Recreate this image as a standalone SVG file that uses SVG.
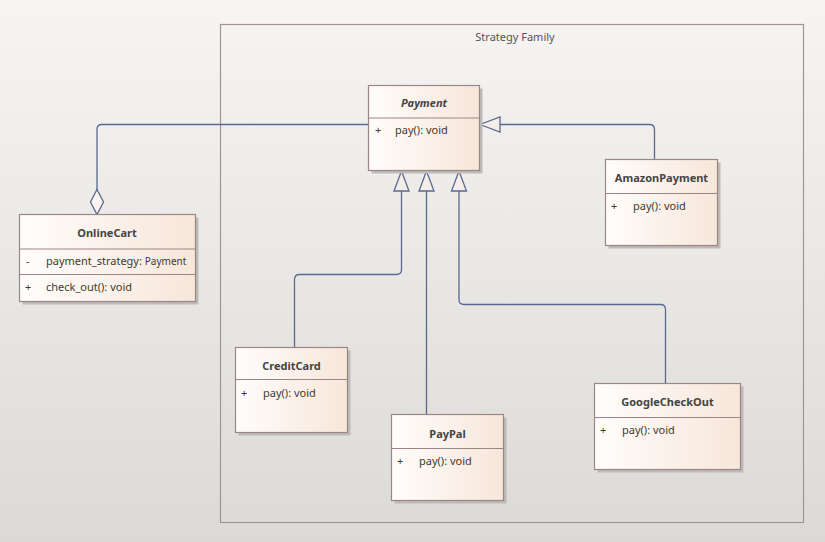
<svg xmlns="http://www.w3.org/2000/svg" width="825" height="542" viewBox="0 0 825 542">
<defs>
<linearGradient id="bg" x1="0" y1="0" x2="0" y2="1">
<stop offset="0" stop-color="#f6f5f3"/>
<stop offset="1" stop-color="#dcdad7"/>
</linearGradient>
<linearGradient id="nodefill" x1="0" y1="0" x2="1" y2="0">
<stop offset="0" stop-color="#fffdfb"/>
<stop offset="1" stop-color="#f7e6da"/>
</linearGradient>
<marker id="tri" viewBox="-1 -1 22 18" refX="20" refY="8" markerWidth="22" markerHeight="18" markerUnits="userSpaceOnUse" orient="auto">
<path d="M20,8 L0,0.5 L0,15.5 Z" fill="#f4ede8" stroke="#5b6890" stroke-width="1.3"/>
</marker>
</defs>
<style>
.shadow{fill:#bdbbb8;}
.box{fill:url(#nodefill);stroke:#9b8686;stroke-width:1.2;}
.div{stroke:#9b8686;stroke-width:1.2;}
.title{font-family:"Noto Sans","Liberation Sans",sans-serif;font-size:11px;font-weight:bold;fill:#444;text-anchor:middle;}
.txt{font-family:"Noto Sans","Liberation Sans",sans-serif;font-size:11px;fill:#3f3a30;}
.small{font-size:10px;}
.conn{fill:none;stroke:#5b6890;stroke-width:1.3;}
.frame{fill:none;stroke:#a39494;stroke-width:1.2;}
.flabel{font-family:"Noto Sans","Liberation Sans",sans-serif;font-size:11px;fill:#555;text-anchor:middle;}
</style>
<rect width="825" height="542" fill="url(#bg)"/>
<g id="strategy-family">
<rect class="frame" x="220.5" y="24.5" width="583" height="498"/>
<text class="flabel" x="515" y="41">Strategy Family</text>
</g>
<g id="connectors">
<path class="conn" d="M368,124.5 H102 Q97,124.5 97,129.5 V190"/>
<path d="M97,189.5 L103.5,202 L97,214.5 L90.5,202 Z" fill="#fbf4ef" stroke="#5b6890" stroke-width="1.3"/>
<path class="conn" d="M654.5,159 V129.5 Q654.5,124.5 649.5,124.5 H480" marker-end="url(#tri)"/>
<path class="conn" d="M294.5,347 V279.5 Q294.5,274.5 299.5,274.5 H396.5 Q401.5,274.5 401.5,269.5 V171" marker-end="url(#tri)"/>
<path class="conn" d="M426.5,414 V171" marker-end="url(#tri)"/>
<path class="conn" d="M665.5,383 V309.5 Q665.5,304.5 660.5,304.5 H464 Q459,304.5 459,299.5 V171" marker-end="url(#tri)"/>
</g>
<g id="Payment">
<rect class="shadow" x="371.5" y="88.5" width="111" height="85"/>
<rect class="box" x="368.5" y="85.5" width="111" height="85"/>
<line class="div" x1="368.5" y1="118" x2="479.5" y2="118"/>
<text class="title" x="424" y="107" font-style="italic">Payment</text>
<text class="txt" x="375" y="134">+</text>
<text class="txt" x="395" y="134">pay(): void</text>
</g>
<g id="OnlineCart">
<rect class="shadow" x="22.5" y="217.5" width="176" height="87"/>
<rect class="box" x="19.5" y="214.5" width="176" height="87"/>
<line class="div" x1="19.5" y1="249" x2="195.5" y2="249"/>
<line class="div" x1="19.5" y1="274.5" x2="195.5" y2="274.5"/>
<text class="title" x="107" y="237">OnlineCart</text>
<text class="txt" x="26" y="265">-</text>
<text class="txt" x="46" y="265">payment_strategy: <tspan class="small">Payment</tspan></text>
<text class="txt" x="25" y="291">+</text>
<text class="txt" x="46" y="291">check_out(): void</text>
</g>
<g id="AmazonPayment">
<rect class="shadow" x="608.5" y="162.5" width="112" height="86"/>
<rect class="box" x="605.5" y="159.5" width="112" height="86"/>
<line class="div" x1="605.5" y1="193.5" x2="717.5" y2="193.5"/>
<text class="title" x="661.5" y="182">AmazonPayment</text>
<text class="txt" x="611" y="210">+</text>
<text class="txt" x="633" y="210">pay(): void</text>
</g>
<g id="CreditCard">
<rect class="shadow" x="238.5" y="350.5" width="112" height="85"/>
<rect class="box" x="235.5" y="347.5" width="112" height="85"/>
<line class="div" x1="235.5" y1="379.5" x2="347.5" y2="379.5"/>
<text class="title" x="291.5" y="370">CreditCard</text>
<text class="txt" x="241" y="397">+</text>
<text class="txt" x="263" y="397">pay(): void</text>
</g>
<g id="PayPal">
<rect class="shadow" x="394.5" y="417.5" width="112" height="86"/>
<rect class="box" x="391.5" y="414.5" width="112" height="86"/>
<line class="div" x1="391.5" y1="448.5" x2="503.5" y2="448.5"/>
<text class="title" x="447.5" y="438">PayPal</text>
<text class="txt" x="397" y="465">+</text>
<text class="txt" x="419" y="465">pay(): void</text>
</g>
<g id="GoogleCheckOut">
<rect class="shadow" x="597.5" y="386.5" width="146" height="86"/>
<rect class="box" x="594.5" y="383.5" width="146" height="86"/>
<line class="div" x1="594.5" y1="417.5" x2="740.5" y2="417.5"/>
<text class="title" x="667.5" y="406">GoogleCheckOut</text>
<text class="txt" x="600" y="434">+</text>
<text class="txt" x="622" y="434">pay(): void</text>
</g>
</svg>
